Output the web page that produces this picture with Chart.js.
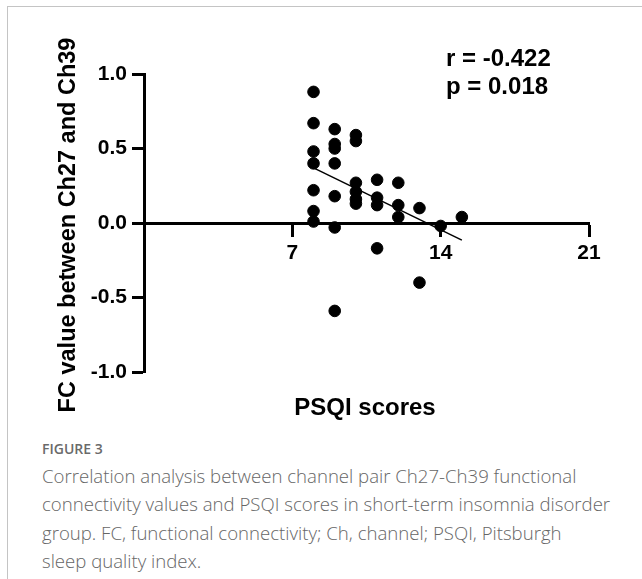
<!DOCTYPE html>
<html lang="en">

<head>
    <meta charset="UTF-8">
    <script src="https://cdn.jsdelivr.net/npm/chart.js"></script>
    <title>Figure 3</title>
    <style>
        body {
            margin: 0;
            width: 642px;
            height: 579px;
            background: #fff;
            position: relative;
            overflow: hidden;
        }

        .frame {
            position: absolute;
            left: 7px;
            top: 6px;
            right: -10px;
            bottom: -10px;
            border-top: 1.5px solid #c4c4c4;
            border-left: 1.5px solid #c4c4c4;
        }

        .chart-box {
            position: absolute;
            left: 0;
            top: 0;
            width: 642px;
            height: 430px;
        }

        .fig-label {
            position: absolute;
            left: 42px;
            top: 439px;
            font-family: "Open Sans", sans-serif;
            font-size: 14px;
            font-weight: 600;
            color: #6a6a6a;
        }

        .caption {
            position: absolute;
            left: 42px;
            top: 462px;
            font-family: "Open Sans", sans-serif;
            font-size: 18.6px;
            font-weight: 300;
            line-height: 28.3px;
            color: #666;
            white-space: nowrap;
        }
    </style>
</head>

<body>
    <div class="frame"></div>
    <div class="chart-box">
        <canvas id="scatterChart" width="642" height="430"></canvas>
    </div>
    <div class="fig-label">FIGURE 3</div>
    <div class="caption">
        Correlation analysis between channel pair Ch27-Ch39 functional<br>
        connectivity values and PSQI scores in short-term insomnia disorder<br>
        group. FC, functional connectivity; Ch, channel; PSQI, Pitsburgh<br>
        sleep quality index.
    </div>
    <script>
        // PSQI scores (x) and FC values (y)
        const psqi = [8, 8, 8, 8, 8, 8, 8,
            9, 9, 9, 9, 9, 9, 9,
            10, 10, 10, 10, 10, 10,
            11, 11, 11, 11,
            12, 12, 12,
            13, 13,
            14,
            15];
        const fcValues = [0.88, 0.67, 0.48, 0.40, 0.22, 0.08, 0.01,
            0.63, 0.53, 0.50, 0.40, 0.18, -0.03, -0.59,
            0.59, 0.55, 0.27, 0.21, 0.16, 0.13,
            0.29, 0.17, 0.12, -0.17,
            0.27, 0.12, 0.04,
            0.10, -0.40,
            -0.02,
            0.04];
        // fitted line end points
        const fitX = [8, 15];
        const fitY = [0.37, -0.115];
        const xTicks = [7, 14, 21];
        const yTicks = [1.0, 0.5, 0.0, -0.5, -1.0];
        const statLines = ['r = -0.422', 'p = 0.018'];

        const points = psqi.map((x, i) => ({ x: x, y: fcValues[i] }));
        const fitLine = fitX.map((x, i) => ({ x: x, y: fitY[i] }));

        const tickFont = { family: 'Arial, "Liberation Sans", sans-serif', size: 21, weight: 'bold' };

        const textPlugin = {
            id: 'textPlugin',
            afterDraw(chart) {
                const ctx = chart.ctx;
                ctx.save();
                ctx.fillStyle = '#000';
                ctx.font = 'bold 24px Arial, "Liberation Sans", sans-serif';
                ctx.textAlign = 'left';
                ctx.textBaseline = 'alphabetic';
                ctx.fillText(statLines[0], 446, 66);
                ctx.fillText(statLines[1], 446, 94);

                ctx.font = 'bold 24px Arial, "Liberation Sans", sans-serif';
                ctx.textAlign = 'center';
                ctx.textBaseline = 'middle';
                ctx.fillText('PSQI scores', 365, 408);

                ctx.font = 'bold 23.5px Arial, "Liberation Sans", sans-serif';
                ctx.translate(69, 225);
                ctx.rotate(-Math.PI / 2);
                ctx.fillText('FC value between Ch27 and Ch39', 0, 0);
                ctx.restore();
            }
        };

        const ctxScatter = document.getElementById('scatterChart').getContext('2d');
        const scatterChart = new Chart(ctxScatter, {
            type: 'scatter',
            data: {
                datasets: [{
                    label: 'FC',
                    data: points,
                    backgroundColor: '#000',
                    borderColor: '#000',
                    pointRadius: 5.8,
                    pointHoverRadius: 5.8
                }, {
                    label: 'fit',
                    data: fitLine,
                    showLine: true,
                    borderColor: '#000',
                    borderWidth: 1.5,
                    pointRadius: 0,
                    fill: false
                }]
            },
            options: {
                responsive: false,
                animation: false,
                layout: {
                    padding: { left: 84, right: 53, top: 74, bottom: 58 }
                },
                plugins: {
                    legend: { display: false },
                    tooltip: { enabled: false }
                },
                scales: {
                    x: {
                        type: 'linear',
                        min: 0,
                        max: 21,
                        position: { y: 0 },
                        afterBuildTicks: function (scale) {
                            scale.ticks = xTicks.map(v => ({ value: v }));
                        },
                        border: { display: true, color: '#000', width: 3 },
                        grid: {
                            drawOnChartArea: false,
                            drawTicks: true,
                            tickLength: 12,
                            tickWidth: 3,
                            tickColor: '#000'
                        },
                        ticks: {
                            color: '#000',
                            font: tickFont,
                            padding: 6,
                            maxRotation: 0
                        }
                    },
                    y: {
                        type: 'linear',
                        min: -1,
                        max: 1,
                        afterBuildTicks: function (scale) {
                            scale.ticks = yTicks.map(v => ({ value: v }));
                        },
                        afterFit: function (scale) {
                            scale.width = 60;
                        },
                        border: { display: true, color: '#000', width: 3 },
                        grid: {
                            drawOnChartArea: false,
                            drawTicks: true,
                            tickLength: 12,
                            tickWidth: 3,
                            tickColor: '#000'
                        },
                        ticks: {
                            color: '#000',
                            font: tickFont,
                            padding: 5,
                            callback: v => v.toFixed(1)
                        }
                    }
                }
            },
            plugins: [textPlugin]
        });
    </script>
</body>

</html>
